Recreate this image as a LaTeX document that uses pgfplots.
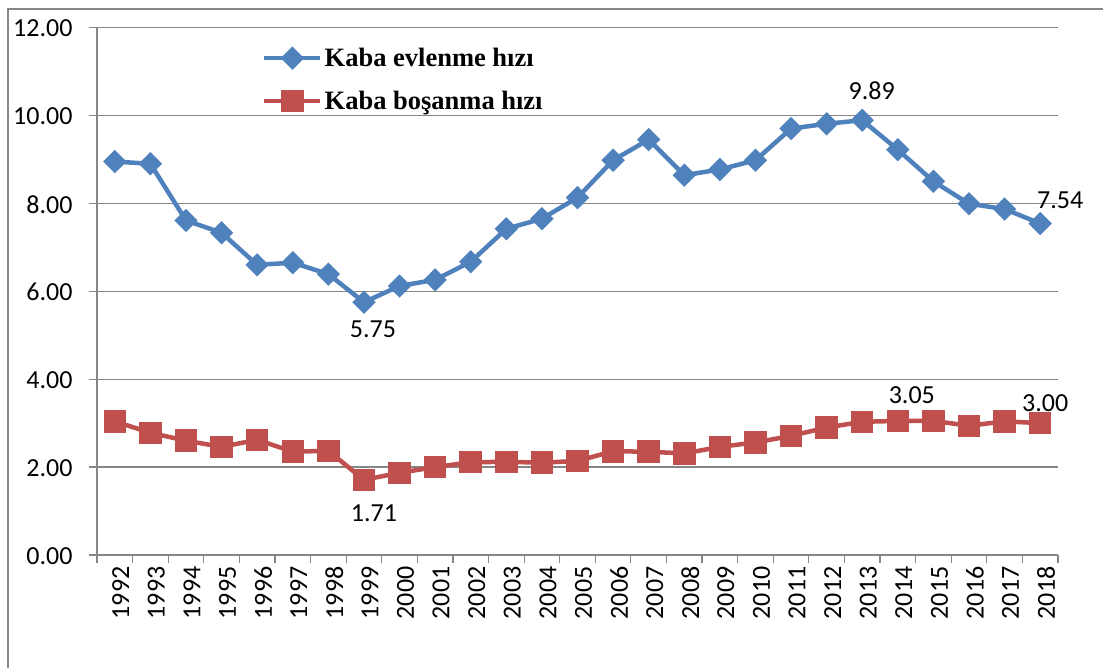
\documentclass[border=0pt]{standalone}
\usepackage{fontspec}
\setmainfont{Carlito}
\newfontfamily\legfont{Liberation Serif}
\usepackage{pgfplots}
\pgfplotsset{compat=1.18}
\definecolor{eblue}{RGB}{79,129,189}
\definecolor{ered}{RGB}{192,80,77}
\definecolor{gridc}{RGB}{134,134,134}
\begin{document}
\begin{tikzpicture}
\useasboundingbox (-97bp,-113bp) rectangle (1006bp,555bp);
\draw[gridc, line width=1.2bp] (-89bp,-113bp) -- (-89bp,546bp) -- (1006bp,546bp);
\begin{axis}[
  at={(0,0)}, anchor=south west,
  scale only axis, width=961bp, height=527.5bp,
  xmin=-0.5, xmax=26.5, ymin=0, ymax=12,
  ytick={0,2,4,6,8,10,12},
  xtick={0,...,26},
  xticklabels={1992,1993,1994,1995,1996,1997,1998,1999,2000,2001,2002,2003,2004,2005,2006,2007,2008,2009,2010,2011,2012,2013,2014,2015,2016,2017,2018},
  x tick label style={rotate=90, anchor=east, yshift=-6bp, font=\fontsize{26bp}{26bp}\selectfont},
  y tick label style={xshift=-13bp, yshift=-1bp, font=\fontsize{26bp}{26bp}\selectfont, /pgf/number format/.cd, fixed, fixed zerofill, precision=2},
  /pgf/number format/assume math mode=true,
  ymajorgrids, grid style={gridc, line width=1.2bp},
  axis x line*=bottom, axis y line*=left,
  axis line style={gridc, line width=1.2bp, -},
  tick style={gridc, line width=1.2bp},
  tick align=outside,
  major tick length=8bp, minor tick length=8bp,
  major x tick style={draw=none},
  minor xtick={-0.5,0.5,...,26.5},
  legend cell align=left,
  legend style={draw=none, fill=none, at={(165bp,509bp)}, anchor=north west, inner sep=0pt,
    row sep=19bp, font=\legfont\bfseries\fontsize{26.5bp}{26.5bp}\selectfont,
    nodes={inner sep=2bp}},
  legend image code/.code={\draw[mark repeat=2,mark phase=2,#1] plot coordinates {(0bp,0bp) (28bp,0bp) (56bp,0bp)};},
  clip=false,
]
\addplot[eblue, line width=4.5bp, mark=square*, mark size=6bp, mark options={rotate=45, solid}] coordinates {
(0,8.95) (1,8.90) (2,7.61) (3,7.33) (4,6.60) (5,6.65) (6,6.39) (7,5.75) (8,6.12) (9,6.26)
(10,6.67) (11,7.42) (12,7.65) (13,8.13) (14,8.98) (15,9.45) (16,8.64) (17,8.77) (18,8.98)
(19,9.70) (20,9.81) (21,9.89) (22,9.22) (23,8.50) (24,7.99) (25,7.87) (26,7.54)};
\addlegendentry{Kaba evlenme hızı}
\addplot[ered, line width=4.5bp, mark=square*, mark size=9bp, mark options={solid}] coordinates {
(0,3.04) (1,2.78) (2,2.60) (3,2.46) (4,2.62) (5,2.35) (6,2.37) (7,1.71) (8,1.87) (9,2.00)
(10,2.11) (11,2.12) (12,2.10) (13,2.14) (14,2.36) (15,2.35) (16,2.31) (17,2.46) (18,2.56)
(19,2.71) (20,2.90) (21,3.03) (22,3.05) (23,3.05) (24,2.94) (25,3.04) (26,3.00)};
\addlegendentry{Kaba boşanma hızı}
\begin{scope}[every node/.style={font=\fontsize{26bp}{26bp}\selectfont, inner sep=0pt}]
\node at (axis cs:21,9.89) [xshift=9.5bp, yshift=30bp] {9.89};
\node at (axis cs:26,7.54) [xshift=20bp, yshift=23.5bp] {7.54};
\node at (axis cs:7,5.75) [xshift=9bp, yshift=-27bp] {5.75};
\node at (axis cs:7,1.71) [xshift=10bp, yshift=-33bp] {1.71};
\node at (axis cs:22,3.05) [xshift=14bp, yshift=26bp] {3.05};
\node at (axis cs:26,3.00) [xshift=5bp, yshift=20bp] {3.00};
\end{scope}
\end{axis}
\end{tikzpicture}
\end{document}
